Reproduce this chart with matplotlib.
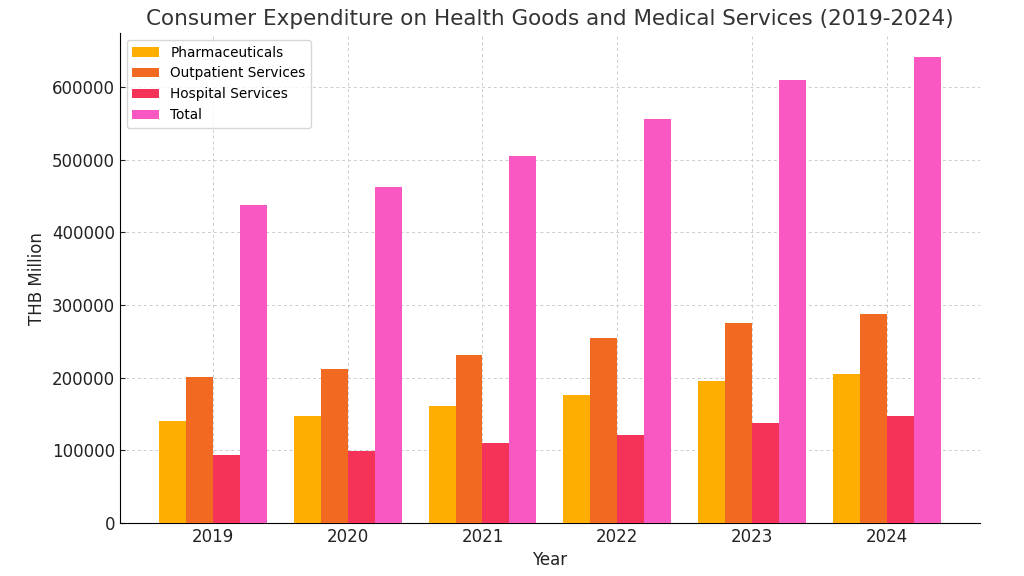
import numpy as np
import matplotlib
matplotlib.use("Agg")
import matplotlib.pyplot as plt

years = ["2019", "2020", "2021", "2022", "2023", "2024"]
pharma = [141000, 147600, 161400, 176500, 194800, 205400]
outpatient = [201200, 211800, 231700, 255200, 275900, 287900]
hospital = [93500, 99400, 110300, 121400, 137500, 146600]
total = [437800, 462000, 504800, 555900, 609800, 641800]

series = [
    ("Pharmaceuticals", pharma, "#FEAE00"),
    ("Outpatient Services", outpatient, "#F26A22"),
    ("Hospital Services", hospital, "#F53257"),
    ("Total", total, "#F957C2"),
]

fig, ax = plt.subplots(figsize=(10.24, 5.76), dpi=100)
fig.subplots_adjust(left=0.117, right=0.957, top=0.942, bottom=0.092)

x = np.arange(len(years))
w = 0.2
for i, (name, vals, col) in enumerate(series):
    ax.bar(x + (i - 1.5) * w, vals, w, label=name, color=col, zorder=3)

ax.set_xticks(x)
ax.set_xticklabels(years)
ax.tick_params(labelsize=12, colors="#222222", direction="in")
ax.set_xlabel("Year", fontsize=12, color="#222222")
ax.set_ylabel("THB Million", fontsize=12, color="#222222")
ax.set_title("Consumer Expenditure on Health Goods and Medical Services (2019-2024)",
             fontsize=15.5, color="#333333")
ax.grid(True, linestyle=(0, (3, 3)), color="#cccccc", linewidth=0.7, zorder=0)
ax.spines["top"].set_visible(False)
ax.spines["right"].set_visible(False)
ax.legend(loc="upper left", fontsize=9.8)

fig.savefig("out.png")
